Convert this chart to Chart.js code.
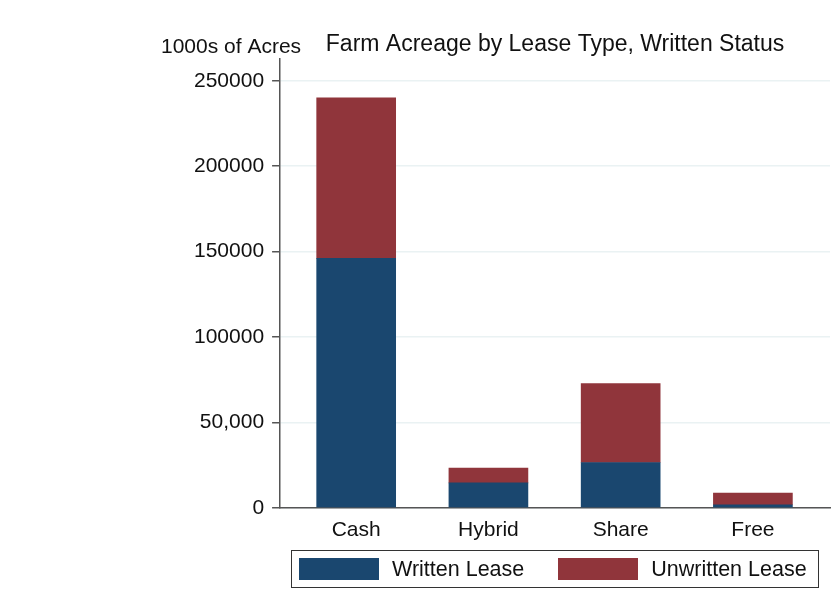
<!DOCTYPE html>
<html lang="en">
<head>
<meta charset="UTF-8" />
<title>Farm Acreage by Lease Type, Written Status</title>
<script src="https://cdn.jsdelivr.net/npm/chart.js"></script>
<style>
  html, body { margin: 0; background: #fff; }
  #wrap { position: relative; width: 840px; height: 613px; }
  #legend {
    position: absolute; top: 550px; height: 38px; width: 528px;
    box-sizing: border-box; border: 1.5px solid #333;
    display: flex; align-items: center; padding-left: 7px;
    font: 21.5px "Liberation Sans", Arial, sans-serif; color: #111;
  }
  #legend .sw { width: 80px; height: 22px; margin-right: 13px; }
  #legend .item { display: flex; align-items: center; margin-right: 34px; white-space: nowrap; }
</style>
</head>
<body>
<div id="wrap">
  <canvas id="chart"></canvas>
  <div id="legend"></div>
</div>
<script>
// ---- data ----
const categories = ["Cash", "Hybrid", "Share", "Free"];
const writtenLease = [146000, 14600, 26500, 1800];
const unwrittenLease = [94000, 8600, 46300, 6800];
const yTicks = [0, 50000, 100000, 150000, 200000, 250000];
const yTickLabels = ["0", "50,000", "100000", "150000", "200000", "250000"];
const seriesNames = ["Written Lease", "Unwritten Lease"];
const seriesColors = ["#1a476f", "#90353b"];

const FONT = "'Liberation Sans', Arial, sans-serif";
const AXIS = "#555";

const toPoints = (vals) => vals.map((v, i) => ({ x: i + 1, y: v }));

// y title written horizontally at the top left, like Stata does
const yTitlePlugin = {
  id: "yTitle",
  afterDraw(chart) {
    const { ctx } = chart;
    ctx.save();
    ctx.font = `21px ${FONT}`;
    ctx.fillStyle = "#111";
    ctx.textBaseline = "alphabetic";
    ctx.fillText("1000s of Acres", 161, 53);
    ctx.restore();
  },
};

// legend built from the datasets, framed and centred on the plot region
const htmlLegend = {
  id: "htmlLegend",
  afterUpdate(chart) {
    const box = document.getElementById("legend");
    box.innerHTML = "";
    chart.data.datasets.forEach((ds) => {
      const item = document.createElement("div");
      item.className = "item";
      const sw = document.createElement("span");
      sw.className = "sw";
      sw.style.background = ds.backgroundColor;
      const txt = document.createElement("span");
      txt.textContent = ds.label;
      item.appendChild(sw);
      item.appendChild(txt);
      box.appendChild(item);
    });
    const mid = (chart.chartArea.left + chart.chartArea.right) / 2;
    box.style.left = Math.round(mid - 264) + "px";
  },
};

new Chart(document.getElementById("chart"), {
  type: "bar",
  data: {
    datasets: [
      { label: seriesNames[0], data: toPoints(writtenLease), backgroundColor: seriesColors[0], borderWidth: 0 },
      { label: seriesNames[1], data: toPoints(unwrittenLease), backgroundColor: seriesColors[1], borderWidth: 0 },
    ],
  },
  options: {
    responsive: true,
    maintainAspectRatio: false,
    animation: false,
    barThickness: 79,
    layout: { padding: { left: 186, right: 10, top: 0, bottom: 60 } },
    plugins: {
      legend: { display: false },
      tooltip: { enabled: false },
      title: {
        display: true,
        text: "Farm Acreage by Lease Type, Written Status",
        fullSize: false,
        color: "#111",
        font: { family: FONT, size: 23, weight: "normal" },
        padding: { top: 31, bottom: 0 },
      },
    },
    scales: {
      x: {
        type: "linear",
        stacked: true,
        offset: false,
        min: 0.4245,
        max: 4.583,
        afterBuildTicks: (scale) => { scale.ticks = categories.map((c, i) => ({ value: i + 1 })); },
        ticks: {
          autoSkip: false,
          maxRotation: 0,
          padding: 10,
          color: "#111",
          font: { family: FONT, size: 21 },
          callback: (v) => categories[v - 1] ?? "",
        },
        grid: { display: false, drawTicks: false },
        border: { display: true, color: AXIS, width: 1.5 },
      },
      y: {
        stacked: true,
        min: 0,
        max: 263000,
        afterBuildTicks: (scale) => { scale.ticks = yTicks.map((v) => ({ value: v })); },
        ticks: {
          padding: 8,
          color: "#111",
          font: { family: FONT, size: 21 },
          callback: (v) => yTickLabels[yTicks.indexOf(v)] ?? "",
        },
        grid: { color: "#eaf2f3", lineWidth: 1.5, tickColor: AXIS, tickLength: 8, tickWidth: 1.5 },
        border: { display: true, color: AXIS, width: 1.5 },
      },
    },
  },
  plugins: [yTitlePlugin, htmlLegend],
});
</script>
</body>
</html>
